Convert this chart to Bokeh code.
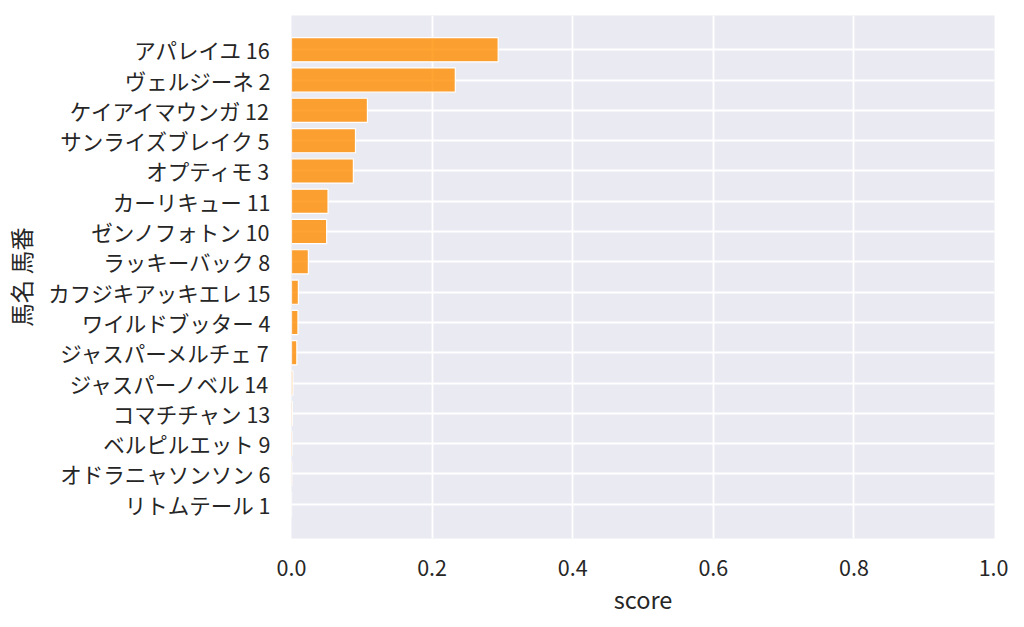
from bokeh.plotting import figure
from bokeh.models import FactorRange, Range1d, FixedTicker, PrintfTickFormatter
from bokeh.embed import file_html
from bokeh.resources import INLINE

names = ["アパレイユ 16", "ヴェルジーネ 2", "ケイアイマウンガ 12", "サンライズブレイク 5",
         "オプティモ 3", "カーリキュー 11", "ゼンノフォトン 10", "ラッキーバック 8",
         "カフジキアッキエレ 15", "ワイルドブッター 4", "ジャスパーメルチェ 7",
         "ジャスパーノベル 14", "コマチチャン 13", "ベルピルエット 9",
         "オドラニャソンソン 6", "リトムテール 1"]
scores = [0.294, 0.233, 0.108, 0.091, 0.088, 0.052, 0.050, 0.024,
          0.0098, 0.0092, 0.0076, 0.0020, 0.0012, 0.0008, 0.0004, 0.0001]
x_ticks = [0.0, 0.2, 0.4, 0.6, 0.8, 1.0]

FONT = "Noto Sans CJK JP"
TXT = "#262626"

factors = list(reversed(names))
p = figure(frame_width=703, frame_height=523, output_backend="svg", toolbar_location=None,
           y_range=FactorRange(factors=factors, range_padding=0.0788),
           x_range=Range1d(0, 1.0),
           min_border_left=291, min_border_right=14, min_border_top=15, min_border_bottom=10)

p.hbar(y=names, right=scores, left=0, height=0.8,
       fill_color="darkorange", fill_alpha=0.8, line_color="white", line_width=1.2)

p.background_fill_color = "#EAEAF2"
p.border_fill_color = "white"
p.outline_line_color = None
for g in (p.xgrid, p.ygrid):
    g.grid_line_color = "white"
    g.grid_line_width = 1.8

p.xaxis.ticker = FixedTicker(ticks=x_ticks)
p.xaxis.formatter = PrintfTickFormatter(format="%.1f")

for ax in (p.xaxis, p.yaxis):
    ax.axis_line_color = None
    ax.major_tick_line_color = None
    ax.minor_tick_line_color = None
    ax.major_label_text_font = FONT
    ax.major_label_text_font_size = "21.5px"
    ax.major_label_text_color = TXT
    ax.axis_label_text_font = FONT
    ax.axis_label_text_font_size = "23.5px"
    ax.axis_label_text_font_style = "normal"
    ax.axis_label_text_color = TXT

p.xaxis.axis_label = "score"
p.yaxis.axis_label = "馬名 馬番"
p.xaxis.major_label_standoff = 15
p.xaxis.axis_label_standoff = 3
p.yaxis.major_label_standoff = 15
p.yaxis.axis_label_standoff = 7

open("out.html", "w").write(file_html(p, INLINE))
